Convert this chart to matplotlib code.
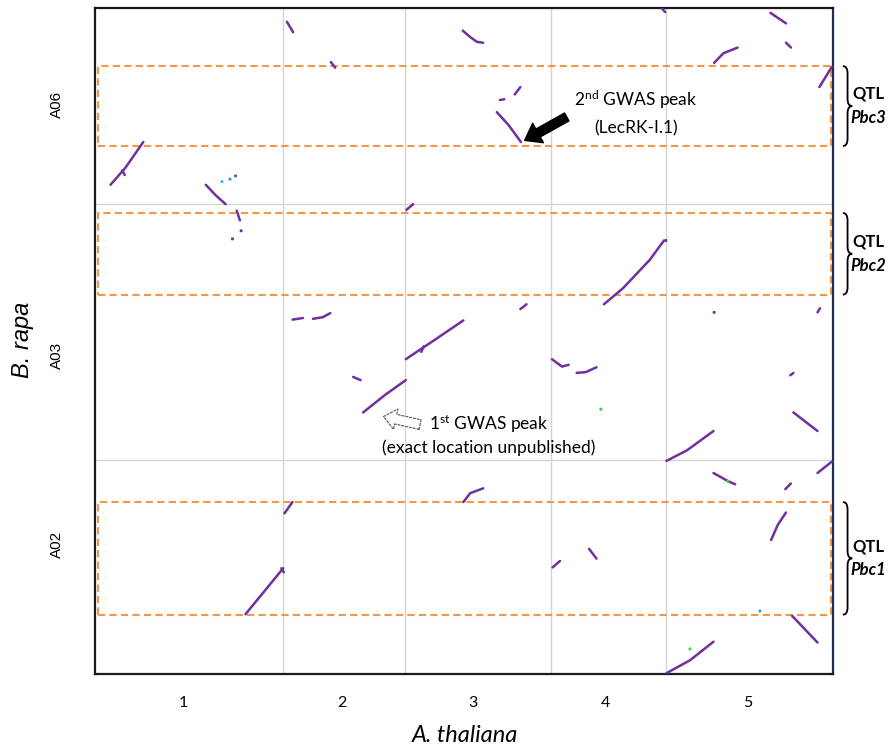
import matplotlib
matplotlib.use('Agg')
import matplotlib.pyplot as plt
from matplotlib.path import Path
from matplotlib.patches import PathPatch, Rectangle
import numpy as np

plt.rcParams['font.family'] = ['Lato', 'DejaVu Sans']
plt.rcParams['mathtext.fontset'] = 'custom'
plt.rcParams['mathtext.rm'] = 'Lato'
plt.rcParams['mathtext.it'] = 'Lato:italic'
plt.rcParams['mathtext.bf'] = 'Lato:bold'

# A. thaliana chromosomes (Mb), x axis
at_chrom = ['1', '2', '3', '4', '5']
at_len = [30.4, 19.7, 23.5, 18.6, 27.0]
at_label_pos = [14.2, 39.9, 61.1, 82.5, 105.5]

# B. rapa chromosomes (Mb), y axis, bottom to top
br_chrom = ['A02', 'A03', 'A06']
br_len = [26.5, 31.7, 24.3]
br_label_pos = [16.0, 39.5, 70.5]

# syntenic blocks (A. thaliana Mb, B. rapa Mb), concatenated coordinates
blocks = [
    [(31.0, 80.8), (32.0, 79.5)],
    [(38.1, 75.8), (38.8, 75.1)],
    [(2.5, 60.6), (4.9, 62.7), (7.8, 65.9)],
    [(4.4, 62.4), (4.8, 61.8)],
    [(17.9, 60.6), (19.5, 59.3), (21.1, 58.2)],
    [(22.9, 57.4), (23.4, 56.2)],
    [(50.3, 57.5), (51.4, 58.2)],
    [(31.9, 43.9), (33.6, 44.1)],
    [(35.2, 44.0), (36.8, 44.2), (38.0, 44.7)],
    [(50.2, 39.0), (54.5, 41.2), (59.5, 43.8)],
    [(52.7, 39.9), (53.1, 40.6)],
    [(41.7, 36.8), (42.9, 36.4)],
    [(43.3, 32.4), (46.9, 34.6), (50.2, 36.4)],
    [(59.4, 79.7), (60.6, 78.9), (61.7, 78.3), (62.7, 78.2)],
    [(91.5, 82.5), (92.1, 82.0)],
    [(109.1, 81.9), (111.6, 80.6)],
    [(111.6, 78.2), (112.4, 77.6)],
    [(100.0, 75.7), (101.5, 76.9), (103.8, 77.6)],
    [(117.0, 72.7), (119.0, 75.2)],
    [(67.8, 71.8), (68.7, 72.7)],
    [(65.4, 71.1), (66.1, 71.2)],
    [(64.9, 69.6), (66.8, 68.0), (68.8, 65.9)],
    [(68.7, 45.2), (69.7, 45.8)],
    [(82.2, 45.8), (85.3, 47.8), (89.6, 51.3), (91.9, 53.7)],
    [(116.7, 44.8), (117.1, 45.3)],
    [(73.8, 39.0), (75.4, 38.1)],
    [(75.5, 38.1), (76.5, 38.3)],
    [(77.8, 37.3), (79.3, 37.4), (81.0, 38.0)],
    [(112.3, 37.0), (112.8, 37.3)],
    [(112.8, 32.4), (116.7, 30.1)],
    [(92.3, 26.4), (95.6, 27.7), (99.9, 30.1)],
    [(99.9, 24.9), (102.2, 23.9), (103.4, 23.5)],
    [(111.5, 22.9), (112.4, 23.6)],
    [(116.7, 24.9), (119.0, 26.3)],
    [(59.5, 21.3), (60.6, 22.4), (62.7, 23.0)],
    [(109.2, 16.6), (110.3, 18.5), (111.6, 20.0)],
    [(73.9, 13.2), (75.1, 14.0)],
    [(79.8, 15.5), (81.0, 14.3)],
    [(112.6, 7.2), (116.7, 3.9)],
    [(92.3, 0.1), (96.1, 1.7), (99.9, 4.0)],
    [(30.6, 19.9), (31.9, 21.3)],
    [(24.3, 7.4), (30.4, 13.1)],
    [(30.1, 13.1), (30.5, 12.6)],
]

# scattered single hits
dot_x = [20.5, 21.8, 22.7, 23.6, 22.2, 92.2, 100.0, 81.7, 102.2, 96.1, 107.4]
dot_y = [61.0, 61.3, 61.7, 54.9, 53.9, 53.7, 44.8, 32.8, 23.9, 3.1, 7.8]
dot_c = ['#2ec4d6', '#2a9fb0', '#3a5fc8', '#7030a0', '#7030a0', '#7030a0',
         '#7030a0', '#3cd03c', '#3cd03c', '#3cd03c', '#3aa0b8']

# QTL regions on B. rapa
qtl_names = ['Pbc1', 'Pbc2', 'Pbc3']
qtl_lo = [7.35, 47.0, 65.4]
qtl_hi = [21.3, 57.1, 75.3]

at_bounds = np.concatenate([[0], np.cumsum(at_len)])
br_bounds = np.concatenate([[0], np.cumsum(br_len)])

fig = plt.figure(figsize=(8.96, 7.49), dpi=100)
ax = fig.add_axes([95 / 896, 75 / 749, 738 / 896, 666 / 749])
ax.set_xlim(0, at_bounds[-1])
ax.set_ylim(0, br_bounds[-1])

for b in at_bounds[1:-1]:
    ax.axvline(b, color='#d4d4d4', lw=1.0, zorder=0)
for b in br_bounds[1:-1]:
    ax.axhline(b, color='#d4d4d4', lw=1.0, zorder=0)

for seg in blocks:
    xs, ys = zip(*seg)
    ax.plot(xs, ys, color='#7030a0', lw=1.8, solid_capstyle='round', zorder=3)
ax.scatter(dot_x, dot_y, s=5, c=dot_c, zorder=4, linewidths=0)

# QTL boxes
for lo, hi in zip(qtl_lo, qtl_hi):
    ax.add_patch(Rectangle((0.45, lo), 118.45, hi - lo, fill=False,
                           edgecolor='#f79646', lw=1.5, linestyle=(0, (3.5, 2)),
                           zorder=2))

# curly braces and labels right of the plot
def brace(ax, x0, y0, y1, w=1.5, r=0.9):
    ym = (y0 + y1) / 2
    xm = x0 + w / 2
    verts = [(x0, y1), (xm, y1), (xm, y1 - r),
             (xm, ym + r), (xm, ym), (x0 + w, ym),
             (xm, ym), (xm, ym - r),
             (xm, y0 + r), (xm, y0), (x0, y0)]
    codes = [Path.MOVETO, Path.CURVE3, Path.CURVE3,
             Path.LINETO, Path.CURVE3, Path.CURVE3,
             Path.CURVE3, Path.CURVE3,
             Path.LINETO, Path.CURVE3, Path.CURVE3]
    ax.add_patch(PathPatch(Path(verts, codes), fill=False, lw=1.3,
                           edgecolor='black', clip_on=False))

for name, lo, hi in zip(qtl_names, qtl_lo, qtl_hi):
    brace(ax, 120.8, lo, hi)
    mid = (lo + hi) / 2
    ax.text(124.9, mid + 1.5, 'QTL', ha='center', va='center', fontsize=12,
            fontweight='bold', clip_on=False)
    ax.text(124.9, mid - 1.5, name, ha='center', va='center', fontsize=12,
            fontweight='bold', fontstyle='italic', clip_on=False)

# GWAS annotations
ax.annotate('', xy=(69.4, 66.1), xytext=(76.2, 69.0),
            arrowprops=dict(arrowstyle='simple,head_length=1.1,head_width=1.6,tail_width=0.65',
                            color='black', mutation_scale=10, shrinkA=0, shrinkB=0))
ax.text(87.4, 71.1, '2$^{\\mathrm{nd}}$ GWAS peak', ha='center', va='center', fontsize=12.5)
ax.text(87.4, 67.6, '(LecRK-I.1)', ha='center', va='center', fontsize=12.5)

ax.annotate('', xy=(46.6, 31.9), xytext=(52.5, 30.9),
            arrowprops=dict(arrowstyle='simple,head_length=0.9,head_width=1.5,tail_width=0.7',
                            facecolor='white', edgecolor='#555555', lw=0.8,
                            linestyle=(0, (2, 1.5)), mutation_scale=10,
                            shrinkA=0, shrinkB=0))
ax.text(63.6, 31.0, '1$^{\\mathrm{st}}$ GWAS peak', ha='center', va='center', fontsize=12.5)
ax.text(63.6, 28.0, '(exact location unpublished)', ha='center', va='center', fontsize=12.5)

ax.set_xticks(at_label_pos)
ax.set_xticklabels(at_chrom, fontsize=11.5)
ax.set_yticks(br_label_pos)
ax.set_yticklabels(br_chrom, fontsize=11, rotation=90, va='center',
                   family=['Liberation Sans', 'DejaVu Sans'])
ax.tick_params(axis='x', length=0, pad=16)
ax.tick_params(axis='y', length=0, pad=22)

for side in ['left', 'bottom', 'top']:
    ax.spines[side].set_linewidth(1.6)
    ax.spines[side].set_color('#1a1a1a')
ax.spines['right'].set_linewidth(1.6)
ax.spines['right'].set_color('#1c2a5c')

fig.text(465 / 896, 1 - 735 / 749, 'A. thaliana', ha='center', va='center',
         fontsize=17, fontstyle='italic')
fig.text(22 / 896, 1 - 340 / 749, 'B. rapa', ha='center', va='center',
         fontsize=17, fontstyle='italic', rotation=90,
         family=['Liberation Sans', 'DejaVu Sans'])

fig.savefig('out.png', dpi=100)
